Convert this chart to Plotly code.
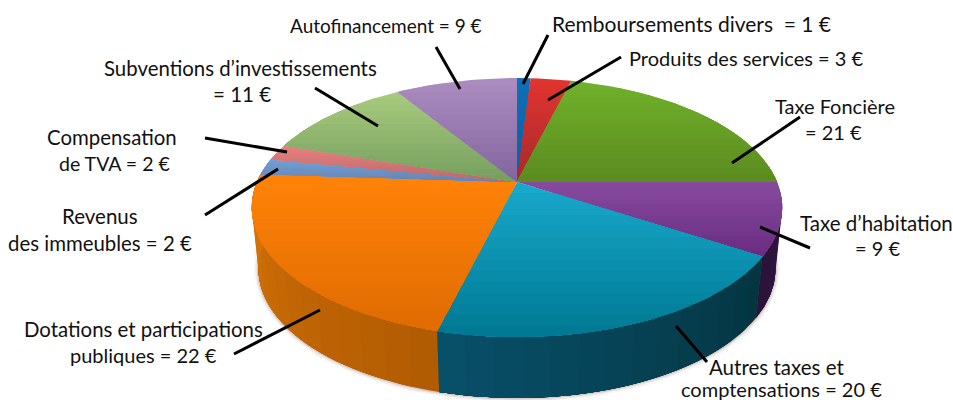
import numpy as np
import plotly.graph_objects as go

names = ["Remboursements divers", "Produits des services", "Taxe Foncière", "Taxe d’habitation",
         "Autres taxes et comptensations", "Dotations et participations publiques",
         "Revenus des immeubles", "Compensation de TVA", "Subventions d’investissements", "Autofinancement"]
values = [1, 3, 21, 9, 20, 22, 2, 2, 11, 9]
top_colors = ["#0f6fb8", "#e0342f", "#70b02a", "#85499e", "#18a8ca", "#ff8208", "#6f9fd6", "#e8807f", "#a6ca7c", "#ab8cc0"]
low_colors = ["#0d5f9e", "#a82a2c", "#5c8c20", "#6a2d82", "#007a94", "#e06c02", "#6a83b0", "#b96a6c", "#779f60", "#84669f"]
wall_left = ["#333333", "#333333", "#333333", "#2a1238", "#08506a", "#d97608", "#555555", "#555555", "#555555", "#555555"]
wall_right = ["#333333", "#333333", "#333333", "#341a4a", "#04343f", "#b05a02", "#555555", "#555555", "#555555", "#555555"]

labels = [
    (550, 23, "Remboursements divers  = 1 €", "left", 21),
    (627, 58, "Produits des services = 3 €", "left", 20),
    (835, 106, "Taxe Foncière", "center", 20),
    (833, 132, "= 21 €", "center", 20),
    (876, 223, "Taxe d’habitation", "center", 20.5),
    (877, 248, "= 9 €", "center", 20),
    (776, 367, "Autres taxes et", "center", 20.5),
    (781, 389, "comptensations = 20 €", "center", 20),
    (143, 329, "Dotations et participations", "center", 20.4),
    (143, 355, "publiques = 22 €", "center", 20),
    (100, 216, "Revenus", "center", 20.5),
    (100, 243, "des immeubles = 2 €", "center", 20.4),
    (112, 137, "Compensation", "center", 20.4),
    (114, 163, "de TVA = 2 €", "center", 19.5),
    (240, 68, "Subventions d’investissements", "center", 20.4),
    (242, 94, "= 11 €", "center", 20.5),
    (386, 25, "Autofinancement = 9 €", "center", 19),
]
leaders = [
    (548, 35, 523, 84), (621, 57, 548, 100), (800, 117, 732, 163), (760, 227, 810, 248),
    (676, 326, 707, 362), (320, 310, 234, 354), (278, 169, 205, 215), (205, 138, 287, 152),
    (315, 88, 378, 126), (436, 47, 460, 89),
]

CX, CY, R = 517.0, 182.0, 260.0
C, A = -0.197, 88.6
DEPTH, SHRINK = 61.0, 0.975


def top(frac):
    a = 2 * np.pi * np.asarray(frac)
    u, v = np.sin(a), -np.cos(a)
    d = 1 + C * v
    return CX + R * u / d, (CY + A * v) / d


def bottom(frac):
    x, y = top(frac)
    return CX + (x - CX) * SHRINK, y + DEPTH


def mix(c1, c2, t):
    a = [int(c1[i:i + 2], 16) for i in (1, 3, 5)]
    b = [int(c2[i:i + 2], 16) for i in (1, 3, 5)]
    return "rgb(%d,%d,%d)" % tuple(round(p + (q - p) * t) for p, q in zip(a, b))


def clip_below(pts, y0):
    out = []
    for i in range(len(pts)):
        p, q = pts[i], pts[(i + 1) % len(pts)]
        pin, qin = p[1] >= y0, q[1] >= y0
        if pin:
            out.append(p)
        if pin != qin:
            t = (y0 - p[1]) / (q[1] - p[1])
            out.append((p[0] + (q[0] - p[0]) * t, y0))
    return out


fig = go.Figure()


def poly(xs, ys, color):
    fig.add_trace(go.Scatter(x=list(xs), y=list(ys), mode="lines", fill="toself", fillcolor=color,
                             line=dict(color=color, width=0), hoverinfo="skip", showlegend=False))


edges = np.concatenate([[0], np.cumsum(values)]) / sum(values)

# soft shadow under the wall
fs = np.linspace(0.24, 0.76, 200)
sx, sy = bottom(fs)
for w, op in [(9, 0.05), (6, 0.08), (3, 0.14)]:
    fig.add_trace(go.Scatter(x=sx, y=sy, mode="lines", line=dict(color=f"rgba(90,60,40,{op})", width=w),
                             hoverinfo="skip", showlegend=False))

# wall: strips painted over one another so no seams show
for i, (f0, f1) in enumerate(zip(edges[:-1], edges[1:])):
    lo, hi = max(f0, 0.22), min(f1, 0.78)
    if hi <= lo:
        continue
    n = max(2, int((hi - lo) * 70))
    st = np.linspace(lo, hi, n + 1)
    for k in range(n):
        fr = np.linspace(st[k], hi, 40)
        tx, ty = top(fr)
        bx, by = bottom(fr)
        poly(np.r_[tx, bx[::-1]], np.r_[ty, by[::-1]],
             mix(wall_right[i], wall_left[i], (k + 0.5) / n))

# top face, vertical shading bands painted from top to bottom
for i, (f0, f1) in enumerate(zip(edges[:-1], edges[1:])):
    fr = np.linspace(f0, f1, max(6, int((f1 - f0) * 200)))
    ex, ey = top(fr)
    pts = [(CX, CY)] + list(zip(ex, ey))
    ymin, ymax = min(p[1] for p in pts), max(p[1] for p in pts)
    nb = 14
    for k in range(nb):
        y0 = ymin + (ymax - ymin) * k / nb
        clipped = clip_below(pts, y0)
        if len(clipped) < 3:
            continue
        px, py = zip(*clipped)
        poly(px, py, mix(top_colors[i], low_colors[i], k / (nb - 1)))

shapes = [dict(type="line", xref="x", yref="y", x0=a, y0=b, x1=c, y1=d, line=dict(color="black", width=3))
          for a, b, c, d in leaders]
annotations = [dict(x=x, y=y, xref="x", yref="y", text=t, showarrow=False, xanchor=anc, yanchor="middle",
                    font=dict(family="Lato", size=s, color="#111111")) for x, y, t, anc, s in labels]

fig.update_layout(width=953, height=400, margin=dict(l=0, r=0, t=0, b=0), paper_bgcolor="white",
                  plot_bgcolor="white", showlegend=False, shapes=shapes, annotations=annotations,
                  xaxis=dict(range=[0, 953], visible=False, fixedrange=True),
                  yaxis=dict(range=[400, 0], visible=False, fixedrange=True))
fig.write_html("out.html", config={"displayModeBar": False},
               post_script="document.body.style.margin='0';document.documentElement.style.overflow='hidden';")
